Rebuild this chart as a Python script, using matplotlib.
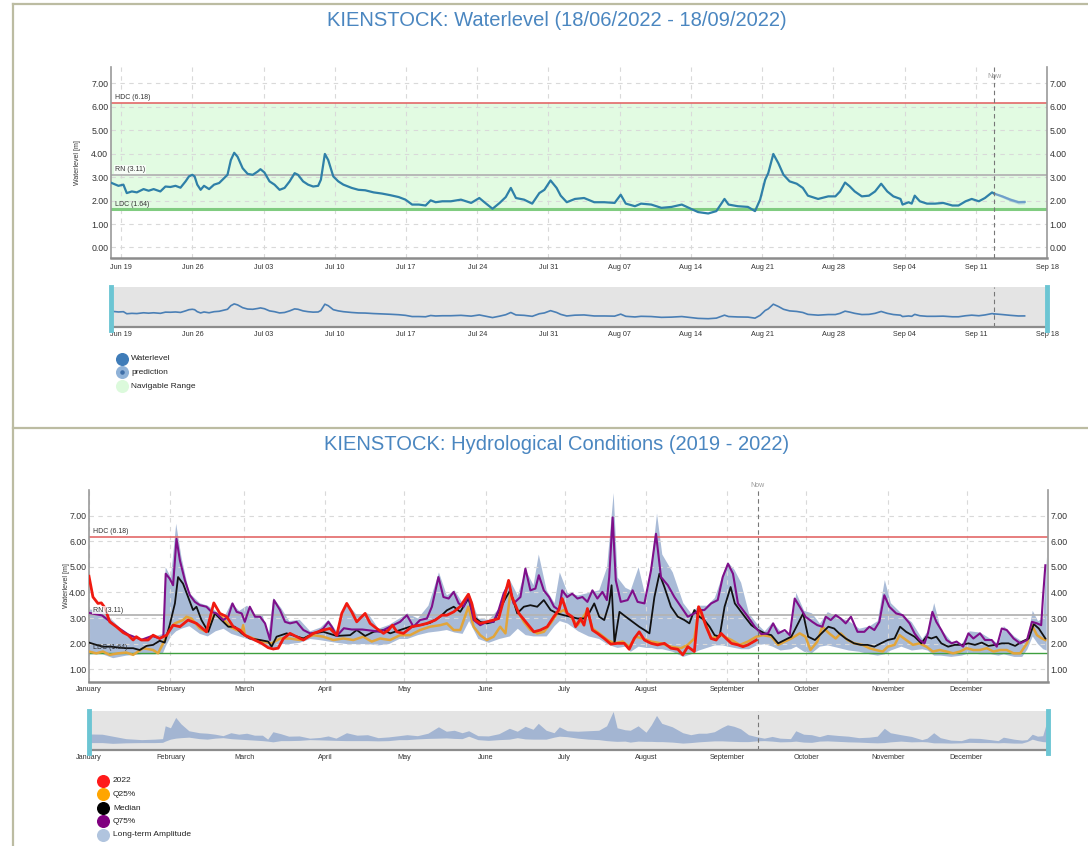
import numpy as np
import matplotlib.pyplot as plt
import matplotlib.dates as mdates
import matplotlib.transforms as mtransforms
from matplotlib.ticker import FormatStrFormatter

plt.rcParams['font.family'] = ['Liberation Sans', 'DejaVu Sans']

# ---- top chart: water level, days since 18/06/2022 00:00 ----
START = np.datetime64('2022-06-18T00:00')
END = np.datetime64('2022-09-18T00:00')

level_pts = [
    (0.07, 2.75), (0.73, 2.63), (1.22, 2.68), (1.55, 2.32), (2.05, 2.39), (2.54, 2.35), (3.2, 2.49),
    (3.7, 2.42), (4.19, 2.49), (4.85, 2.39), (5.35, 2.6), (5.84, 2.58), (6.34, 2.63), (6.83, 2.55),
    (7.33, 2.82), (7.66, 3.03), (7.99, 3.1), (8.22, 3.03), (8.48, 2.68), (8.81, 2.46), (9.14, 2.63),
    (9.64, 2.49), (10.13, 2.68), (10.63, 2.75), (11.12, 2.96), (11.45, 3.1), (11.78, 3.73),
    (12.11, 4.04), (12.44, 3.87), (12.94, 3.38), (13.43, 3.14), (13.93, 3.1), (14.42, 3.24),
    (14.69, 3.34), (15.08, 3.2), (15.58, 2.82), (16.07, 2.68), (16.57, 2.46), (17.06, 2.54),
    (17.56, 2.82), (18.05, 3.17), (18.38, 3.1), (18.88, 2.82), (19.37, 2.68), (19.87, 2.6),
    (20.36, 2.63), (20.63, 2.89), (21.02, 3.99), (21.35, 3.73), (21.85, 3.03), (22.34, 2.82),
    (22.84, 2.68), (23.66, 2.54), (24.32, 2.46), (24.98, 2.44), (25.81, 2.35), (26.63, 2.3),
    (27.46, 2.23), (28.28, 2.15), (28.94, 2.04), (29.6, 1.83), (30.26, 1.83), (30.92, 1.79),
    (31.42, 2.01), (31.91, 1.93), (32.57, 1.97), (33.4, 1.97), (34.4, 2.04), (35.4, 1.9),
    (36.2, 2.11), (36.7, 1.93), (37.5, 1.65), (38.2, 1.9), (38.8, 2.15), (39.3, 2.54), (39.8, 2.11),
    (40.6, 2.04), (41.4, 1.87), (42.1, 2.32), (42.6, 2.46), (43.2, 2.86), (43.8, 2.54), (44.2, 2.21),
    (44.8, 1.93), (45.6, 2.07), (46.5, 2.11), (47.5, 1.93), (48.5, 1.93), (49.5, 1.9), (50.1, 2.25),
    (50.6, 1.87), (51.5, 1.76), (52.1, 1.87), (53.1, 1.83), (54.1, 1.69), (55.1, 1.73), (56.1, 1.83),
    (57.0, 1.65), (57.7, 1.51), (58.7, 1.45), (59.5, 1.55), (60.3, 2.07), (60.7, 1.83), (61.6, 1.76),
    (62.6, 1.73), (63.3, 1.55), (63.8, 2.04), (64.3, 2.89), (64.6, 3.17), (65.1, 3.99), (65.6, 3.59),
    (66.1, 3.1), (66.7, 2.82), (67.4, 2.72), (68.0, 2.54), (68.5, 2.21), (69.5, 2.07), (70.5, 2.18),
    (71.2, 2.18), (71.66, 2.39), (72.15, 2.77), (72.6, 2.61), (73.1, 2.39), (73.8, 2.18),
    (74.5, 2.21), (75.1, 2.39), (75.7, 2.72), (76.3, 2.39), (76.9, 2.18), (77.6, 2.07), (77.8, 1.83),
    (78.4, 1.93), (78.7, 1.87), (79.0, 2.21), (79.5, 1.97), (80.2, 1.87), (81.0, 1.87), (81.8, 1.9),
    (82.7, 1.79), (83.3, 1.79), (84.0, 1.97), (84.6, 2.07), (85.3, 1.97), (85.9, 2.11), (86.6, 2.35),
    (86.8, 2.3),
]
# day, value, band low, band high
forecast_pts = [(86.8, 2.3, 2.27, 2.33), (87.6, 2.18, 2.12, 2.24), (88.4, 2.04, 1.97, 2.11),
                (89.2, 1.93, 1.85, 2.01), (89.8, 1.94, 1.86, 2.02)]
now_day = 86.8

HDC, RN, LDC = 6.18, 3.11, 1.64

# ---- bottom chart: hydrological conditions, day of year ----
months = ['January', 'February', 'March', 'April', 'May', 'June', 'July', 'August',
          'September', 'October', 'November', 'December']
month_starts = [0, 31, 59, 90, 120, 151, 181, 212, 243, 273, 304, 334]
now_doy = 254.5

y2022_pts = [
    (0, 4.63), (1.5, 3.82), (3.4, 3.57), (4.7, 3.59), (6, 3.41), (7.9, 2.85), (10.4, 2.66), (13, 2.43),
    (14.9, 2.33), (16.8, 2.14), (18, 2.27), (19.9, 2.14), (22.5, 2.14), (24.4, 2.33), (26.9, 2.2),
    (29.5, 2.33), (32, 2.72), (34.6, 2.66), (37.7, 2.92), (40.9, 2.79), (44.7, 2.46), (47.5, 3.59),
    (49.8, 3.18), (52.4, 3.05), (54.9, 2.66), (57.4, 2.53), (59.3, 2.33), (62.5, 2.17), (65.7, 2.01),
    (68.2, 1.84), (70.1, 1.79), (72, 1.82), (74, 2.2), (76.5, 2.4), (79, 2.27), (81.6, 2.14),
    (85.4, 2.4), (89.2, 2.53), (91.7, 2.59), (94.3, 2.33), (96.2, 3.18), (98.1, 3.57), (100, 3.24),
    (101.9, 2.85), (103.8, 3.05), (105.1, 3.18), (107, 2.79), (109.5, 2.59), (112.1, 2.4), (114, 2.53),
    (115.5, 2.72), (117.2, 2.46), (119.7, 2.4), (122.9, 2.66), (126, 2.72), (128.6, 2.79),
    (131.8, 2.92), (134.3, 3.11), (136.2, 3.11), (138.8, 3.24), (141.3, 3.45), (144.4, 3.93),
    (145.7, 3.57), (147, 2.92), (148.9, 2.79), (151.4, 2.85), (154, 2.92), (155.9, 2.98), (157.8, 3.7),
    (159.7, 4.47), (161, 3.82), (163.6, 3.18), (166.7, 2.79), (169.3, 2.46), (171.8, 2.53),
    (174.4, 2.66), (176.9, 3.05), (178.8, 3.31), (180.1, 3.76), (182, 3.18), (183.9, 3.05),
    (185.2, 2.66), (187.1, 2.98), (188.4, 2.72), (189.7, 3.37), (191.6, 2.53), (193.5, 2.4),
    (196.1, 2.2), (198.6, 1.98), (201.2, 2.01), (203.7, 2.01), (205.6, 1.78), (207.5, 2.2),
    (209.4, 2.46), (211.4, 2.14), (213.9, 2.01), (216.4, 1.95), (219, 2.01), (221.5, 1.82),
    (224.1, 1.78), (226, 1.56), (227.9, 1.88), (230.4, 1.69), (232, 3.44), (233, 3.24), (234.9, 2.66),
    (236.8, 2.2), (238.7, 2.14), (240.6, 2.4), (242.5, 2.2), (244.5, 2.01), (247, 1.95), (248.9, 1.88),
    (250.8, 1.95), (254, 2.14),
]

q25_pts = [
    (0, 1.69), (2.8, 1.62), (5.3, 1.69), (7.9, 1.56), (11, 1.62), (14.2, 1.65), (16.8, 1.56),
    (20.6, 1.82), (24.4, 1.75), (26.3, 1.62), (28.2, 2.01), (30.7, 2.55), (32.7, 2.79), (35.8, 2.92),
    (37.1, 3.05), (39, 2.98), (42.2, 2.59), (44.7, 2.46), (47.9, 3.18), (50.4, 3.05), (53.6, 2.66),
    (56.2, 2.53), (58.1, 2.46), (58.7, 2.72), (59.3, 2.33), (62.5, 2.2), (66.3, 2.08), (69.5, 2.01),
    (72.7, 2.2), (76.5, 2.2), (80.3, 2.14), (85.4, 2.33), (89.2, 2.27), (93, 2.14), (96.8, 2.2),
    (100.6, 2.14), (104.4, 2.27), (107.6, 2.08), (110.8, 2.2), (114.6, 2.14), (118.4, 2.33),
    (122.2, 2.33), (126, 2.53), (129.8, 2.66), (133.7, 2.72), (136.2, 2.79), (138.8, 2.53),
    (141.3, 2.53), (144.4, 3.44), (146.4, 2.66), (148.9, 2.33), (151.4, 2.14), (154, 2.27),
    (156.5, 2.66), (158.5, 2.4), (160.3, 3.95), (163, 3.31), (165.5, 2.85), (168, 2.53), (170.6, 2.4),
    (173.1, 2.46), (175.7, 2.79), (178.2, 3.18), (180.7, 3.31), (183.3, 3.05), (185.9, 2.72),
    (187.8, 2.98), (189.7, 3.31), (191.6, 2.59), (194.2, 2.4), (197.4, 2.14), (200, 2.01),
    (203.1, 2.08), (205.6, 1.88), (208.2, 2.27), (210.7, 2.2), (213.9, 2.08), (217.7, 2.01),
    (221.5, 1.88), (225.3, 1.82), (227.9, 1.95), (230.4, 2.2), (232, 3.3), (235, 2.7), (236.8, 2.2),
    (240.6, 2.33), (244.5, 2.14), (247.7, 1.95), (250.8, 2.08), (254, 2.27), (256.5, 2.33),
    (259.7, 2.27), (262.3, 1.95), (264.8, 2.08), (267.3, 2.2), (270.5, 2.4), (272.7, 2.27),
    (274.6, 1.75), (277.2, 2.08), (279.1, 2.66), (281.7, 2.4), (284.2, 2.2), (286.1, 2.4),
    (288.7, 2.14), (291.2, 2.01), (294.4, 1.95), (297, 1.82), (299.5, 1.75), (302.1, 1.69), (304, 1.88),
    (306.6, 1.95), (308.5, 2.33), (311, 2.14), (313.6, 1.95), (316.1, 2.01), (318.7, 1.88),
    (321.2, 1.69), (323.8, 1.75), (326.4, 1.69), (328.9, 1.62), (331.5, 1.69), (334, 1.82),
    (336.6, 1.75), (339.1, 1.75), (341.7, 1.82), (344.3, 1.69), (346.8, 1.75), (349.3, 1.75),
    (351.9, 1.62), (354.4, 1.62), (357, 2.01), (358.9, 2.72), (360.8, 2.33), (362.7, 2.2), (364, 2.14),
]

median_pts = [
    (0, 2.04), (2.8, 1.95), (5.3, 1.88), (8.5, 1.88), (11.7, 1.84), (14.2, 1.82), (16.8, 1.82),
    (19.3, 1.75), (21.9, 1.91), (24.4, 1.95), (26.9, 2.11), (28.8, 2.04), (30.7, 2.72), (32.7, 3.57),
    (33.9, 4.6), (35.8, 4.34), (37.7, 3.82), (39.6, 3.31), (40.9, 3.44), (42.8, 2.92), (45.4, 2.46),
    (47.9, 3.18), (50.4, 2.92), (53, 2.66), (55.5, 2.66), (58.1, 2.4), (61.2, 2.2), (65.1, 2.14),
    (68.2, 2.08), (69.5, 1.88), (71.4, 2.27), (75.2, 2.4), (78.4, 2.3), (81.6, 2.2), (85.4, 2.4),
    (89.2, 2.46), (94.3, 2.3), (99.4, 2.33), (101.9, 2.53), (105.1, 2.3), (108.3, 2.46), (112.1, 2.53),
    (114.6, 2.4), (118.4, 2.53), (122.2, 2.66), (126, 2.72), (129.8, 2.81), (133.7, 3.05),
    (136.2, 3.3), (138.8, 3.44), (141.3, 3.24), (144.4, 3.76), (146.4, 3.05), (148.9, 2.85),
    (151.4, 2.79), (154, 2.85), (156.5, 3.37), (158.5, 3.76), (160.3, 4.08), (163, 3.18),
    (165.5, 3.44), (168, 3.5), (170.6, 3.44), (173.1, 3.7), (175.7, 3.31), (178.2, 3.18),
    (180.7, 3.11), (183.3, 3.05), (185.9, 2.98), (188.4, 2.98), (190.3, 3.18), (192.3, 3.57),
    (194.2, 3.05), (196.1, 2.92), (198, 3.57), (198.9, 4.28), (200, 2.01), (201.9, 3.24),
    (204.3, 3.05), (206.9, 2.85), (209.4, 2.66), (211.4, 2.53), (213.3, 2.4), (215.2, 3.82),
    (217.1, 4.73), (219, 4.21), (221.5, 3.44), (224.1, 3.05), (226.6, 2.92), (228.5, 2.79),
    (230.4, 3.31), (232.3, 3.05), (234.2, 2.92), (236.2, 2.66), (238.1, 2.33), (240, 2.27),
    (241.9, 3.44), (244.2, 4.21), (245.8, 3.57), (247.7, 3.31), (249.6, 3.05), (252.1, 2.72),
    (254.7, 2.53), (257.2, 2.4), (259.7, 2.33), (262.3, 2.01), (264.8, 2.14), (267.3, 2.27),
    (269.9, 2.79), (271.8, 3.18), (273.7, 2.27), (276.3, 2.14), (278.8, 2.4), (281.4, 2.66),
    (283.6, 2.59), (285.5, 2.4), (288, 2.2), (291.2, 2.01), (293.8, 1.95), (296.3, 1.95), (298.9, 1.88),
    (301.4, 2.01), (304, 2.14), (306.6, 2.2), (308.7, 2.66), (311, 2.46), (314.2, 2.27), (316.8, 2.01),
    (318.7, 2.27), (320.6, 2.2), (322.5, 2.27), (324.4, 2.01), (327, 1.88), (329.5, 1.95),
    (332.1, 1.95), (334.7, 2.01), (337.2, 1.95), (339.8, 2.04), (342.3, 1.91), (344.9, 1.95),
    (347.4, 2.01), (350, 2.01), (352.5, 1.91), (355.1, 2.08), (357.7, 2.2), (359.6, 2.76),
    (361.5, 2.59), (364, 2.2),
]

q75_pts = [
    (0, 3.2), (5, 3.1), (10, 2.7), (15, 2.35), (20, 2.15), (24, 2.3), (27, 2.2), (28.3, 2.3),
    (29.2, 4.73), (30.7, 4.54), (32, 4.28), (33.3, 6.09), (34.6, 5.25), (36.5, 4.47), (38.4, 3.89),
    (40.3, 3.63), (42.2, 3.5), (44.7, 3.44), (46.6, 3.24), (48.5, 3.18), (51.1, 2.92), (53, 3.05),
    (54.6, 3.57), (56.2, 3.24), (58.1, 3.18), (59.3, 2.85), (61.2, 3.44), (63.2, 3.05), (65.1, 3.05),
    (67, 2.79), (68.9, 2.14), (70.4, 3.7), (72.7, 3.31), (74.6, 2.85), (76.5, 2.79), (79, 2.85),
    (81.6, 2.53), (84.1, 2.4), (86.7, 2.43), (89.2, 2.59), (91.1, 2.85), (92.4, 2.66), (94.3, 2.3),
    (97, 2.6), (100, 2.55), (104, 2.55), (108, 2.5), (110.8, 2.46), (114.6, 2.66), (118.4, 2.85),
    (121, 3.11), (123.5, 2.66), (126, 2.92), (128.6, 2.98), (130.5, 3.44), (133, 4.6), (134.9, 3.82),
    (136.9, 3.76), (138.8, 4.02), (140.7, 3.57), (142.6, 3.44), (144.4, 3.89), (146.4, 2.92),
    (148.9, 2.72), (151.4, 2.85), (154, 2.85), (155.9, 3.31), (157.8, 3.95), (159.7, 4.34),
    (161.6, 3.57), (164.2, 3.82), (166.1, 4.93), (168, 4.08), (169.9, 4.15), (171.2, 4.67),
    (173.1, 4.08), (175.1, 3.82), (177, 3.44), (178.9, 3.31), (180.1, 4.08), (182, 3.82),
    (183.9, 3.95), (185.9, 3.76), (187.8, 3.82), (189.7, 3.63), (191.6, 4.08), (193.5, 3.76),
    (195.4, 4.02), (197.1, 3.7), (198, 4.6), (199.3, 6.93), (200.5, 4.47), (202.4, 3.63), (205, 3.7),
    (206.9, 4.08), (208.8, 3.63), (211.4, 3.57), (213.9, 4.86), (215.8, 6.29), (217.7, 4.6),
    (220.3, 4.28), (222.8, 3.82), (225.3, 3.44), (227.9, 3.05), (230.4, 3.18), (232.3, 3.31),
    (234.2, 3.31), (236.8, 3.57), (239.3, 3.7), (241.2, 4.6), (243.2, 5.12), (245.1, 4.73),
    (247, 3.57), (248.9, 3.31), (250.8, 3.05), (253.4, 2.66), (255.9, 2.37), (258.4, 2.4),
    (260.4, 2.79), (262.3, 2.4), (264.8, 2.53), (266.7, 2.33), (268.6, 3.76), (270.5, 3.44),
    (272.7, 3.05), (275.3, 2.85), (277.2, 2.72), (279.1, 2.66), (280.4, 3.05), (282.3, 2.92),
    (284.2, 3.11), (286.1, 2.98), (288, 2.79), (290, 3.05), (292.5, 2.46), (295.1, 2.46), (297, 2.66),
    (298.9, 2.53), (300.8, 2.85), (302.7, 3.89), (304.6, 3.44), (307.2, 3.18), (309.7, 3.11),
    (312.3, 2.79), (314.2, 2.4), (316.1, 2.14), (318, 2.01), (319.3, 2.4), (321, 3.24), (322.5, 2.85),
    (324.4, 2.53), (326.4, 2.14), (328.3, 2.01), (330.2, 2.08), (332.7, 1.88), (334.7, 2.4),
    (336.6, 2.2), (339.1, 2.4), (341, 2.14), (343.6, 2.14), (345.5, 1.88), (347.4, 2.59),
    (349.3, 2.53), (351.9, 2.2), (354.4, 2.01), (357, 2.14), (358.9, 2.85), (360.8, 2.79),
    (362.4, 2.72), (363.1, 3.82), (364, 5.06),
]

# long-term amplitude: day, low, high
amp_pts = [
    (0, 1.6, 3.35), (5, 1.6, 3.3), (9, 1.45, 2.9), (14, 1.55, 2.4), (20, 1.6, 2.2), (25, 1.6, 2.3),
    (28, 1.65, 2.4), (29, 1.9, 5.0), (31, 2.3, 4.6), (33, 2.5, 6.7), (35, 2.6, 5.4), (38, 2.7, 4.0),
    (42, 2.4, 3.6), (45, 2.3, 3.5), (48, 2.5, 3.3), (51, 2.6, 3.0), (54, 2.4, 3.6), (57, 2.3, 3.3),
    (60, 2.2, 3.5), (63, 2.1, 3.1), (66, 2.0, 3.1), (68, 1.9, 2.3), (70, 1.75, 3.8), (73, 2.0, 3.4),
    (76, 2.0, 2.9), (80, 2.05, 2.95), (84, 2.2, 2.5), (88, 2.15, 2.65), (91, 2.1, 2.95),
    (94, 2.05, 2.5), (98, 2.0, 3.6), (102, 2.0, 3.1), (106, 2.0, 3.2), (110, 1.95, 2.6),
    (114, 2.0, 2.75), (118, 2.2, 3.0), (121, 2.2, 3.2), (125, 2.35, 3.0), (129, 2.45, 3.5),
    (133, 2.5, 4.8), (136, 2.55, 3.9), (139, 2.45, 4.1), (142, 2.4, 3.6), (144.5, 2.9, 4.0),
    (148, 2.2, 3.0), (152, 2.05, 2.95), (156, 2.2, 3.4), (160, 2.3, 4.5), (163, 2.6, 3.9),
    (166, 2.35, 4.9), (169, 2.3, 4.3), (171, 2.3, 5.5), (174, 2.3, 4.1), (177, 2.7, 3.6),
    (179, 2.9, 4.8), (182, 2.8, 4.0), (186, 2.5, 3.9), (190, 2.3, 4.0), (194, 2.2, 4.1),
    (197, 2.0, 5.0), (199.5, 1.9, 7.9), (201, 1.85, 4.6), (204, 1.9, 4.2), (206, 1.7, 4.1),
    (209, 1.9, 5.0), (212, 1.85, 3.7), (214, 1.85, 5.2), (216, 1.8, 7.1), (218, 1.8, 5.5),
    (222, 1.7, 4.8), (226, 1.5, 3.6), (229, 1.6, 3.2), (232, 1.75, 3.5), (235, 1.85, 3.5),
    (238, 1.95, 3.8), (241, 1.95, 4.7), (243, 1.9, 5.2), (245.5, 1.85, 4.9), (248, 1.8, 4.4),
    (251, 1.8, 3.2), (254, 1.95, 2.8), (257, 2.0, 2.5), (260, 1.9, 2.85), (263, 1.75, 2.5),
    (267, 1.8, 2.4), (269, 1.9, 4.0), (272, 1.7, 3.3), (275, 1.65, 3.2), (278, 1.9, 2.8),
    (281, 1.95, 3.25), (285, 1.85, 3.05), (289, 1.75, 2.9), (293, 1.7, 2.6), (297, 1.6, 2.7),
    (300, 1.55, 2.9), (302.7, 1.6, 4.5), (305, 1.75, 3.6), (309, 1.9, 3.2), (313, 1.75, 2.85),
    (317, 1.8, 2.2), (319, 1.75, 2.5), (321.5, 1.55, 3.6), (324, 1.55, 2.6), (328, 1.5, 2.1),
    (332, 1.55, 2.0), (335, 1.65, 2.5), (339, 1.6, 2.45), (343, 1.6, 2.2), (346, 1.55, 2.0),
    (348, 1.6, 2.7), (352, 1.5, 2.3), (355, 1.5, 2.1), (357, 1.8, 2.2), (359, 2.3, 3.3),
    (361, 2.0, 2.9), (363, 1.8, 3.0), (364.3, 1.75, 5.4),
]

W, H = 1088, 846
TITLE = '#4a86c0'
XTICK = 5.2
YTICK = 6.3


def to_dates(days):
    return START + np.round(np.asarray(days) * 1440).astype('timedelta64[m]')


def px_axes(x0, y0, x1, y1):
    return fig.add_axes([x0 / W, 1 - y1 / H, (x1 - x0) / W, (y1 - y0) / H])


def style_main(ax, ylim, yticks):
    ax.set_ylim(*ylim)
    ax.set_yticks(yticks)
    ax.yaxis.set_major_formatter(FormatStrFormatter('%.2f'))
    ax.yaxis.set_ticks_position('both')
    ax.tick_params(axis='both', length=0, colors='#333333')
    ax.tick_params(axis='x', labelsize=XTICK, pad=4)
    ax.tick_params(axis='y', labelsize=YTICK, labelright=True, pad=2)
    ax.grid(True, color='#d9d9d9', linestyle=(0, (4, 4)), linewidth=0.8)
    ax.spines['top'].set_visible(False)
    for side in ('left', 'right'):
        ax.spines[side].set_color('#9a9a9a')
        ax.spines[side].set_linewidth(1.2)
    ax.spines['bottom'].set_color('#8c8c8c')
    ax.spines['bottom'].set_linewidth(1.8)


def style_nav(ax):
    ax.set_facecolor('#e4e4e4')
    ax.set_yticks([])
    ax.tick_params(axis='x', length=0, labelsize=XTICK, colors='#333333', pad=3)
    for side in ('left', 'right', 'top'):
        ax.spines[side].set_visible(False)
    ax.spines['bottom'].set_color('#8c8c8c')
    ax.spines['bottom'].set_linewidth(1.6)
    for edge in ax.get_xlim():
        ax.axvline(edge, ymin=-0.08, ymax=1.0, color='#6cc5d3', lw=3.5, clip_on=False, zorder=5)


def ref_lines(ax, x_text, ldc_color, ldc_width):
    ax.axhline(HDC, color='#e36868', lw=1.2, zorder=1.8)
    ax.axhline(RN, color='#b4b4b4', lw=1.3, zorder=1.8)
    ax.axhline(LDC, color=ldc_color, lw=ldc_width, zorder=1.8)
    tr = mtransforms.blended_transform_factory(ax.transAxes, ax.transData)
    for name, val in (('HDC', HDC), ('RN', RN), ('LDC', LDC)):
        box = dict(facecolor='white', edgecolor='none', alpha=0.75, pad=0.6) if name == 'RN' else None
        ax.text(x_text, val + 0.06, f'{name} ({val:.2f})', transform=tr, fontsize=5,
                color='#333333', va='bottom', ha='left', bbox=box, zorder=6)


fig = plt.figure(figsize=(W / 100, H / 100), dpi=100)

# page frame, titles, legends in pixel coordinates
frame = fig.add_axes([0, 0, 1, 1])
frame.set_xlim(0, W)
frame.set_ylim(H, 0)
frame.axis('off')
border = '#bcbca2'
frame.plot([13, 13], [4, H], color=border, lw=1.6)
frame.plot([13, W], [4, 4], color=border, lw=1.6)
frame.plot([13, W], [428, 428], color=border, lw=1.6)
frame.text(557, 20, 'KIENSTOCK: Waterlevel (18/06/2022 - 18/09/2022)', ha='center', va='center',
           fontsize=14.5, color=TITLE)
frame.text(557, 444, 'KIENSTOCK: Hydrological Conditions (2019 - 2022)', ha='center', va='center',
           fontsize=14.5, color=TITLE)

top_legend = [('Waterlevel', '#3f7cb8'), ('prediction', '#8fb2d8'), ('Navigable Range', '#dcfadc')]
for i, (label, col) in enumerate(top_legend):
    y = 359 + i * 13.5
    frame.scatter([122], [y], s=70, color=col, zorder=3)
    frame.text(131, y, label, fontsize=6, va='center', color='#222222')
frame.scatter([122], [372.5], s=5, color='#3f6fa8', zorder=4)

bottom_legend = [('2022', '#ff1a1a'), ('Q25%', '#ffa500'), ('Median', '#000000'),
                 ('Q75%', '#800080'), ('Long-term Amplitude', '#b0c4de')]
for i, (label, col) in enumerate(bottom_legend):
    y = 781 + i * 13.5
    frame.scatter([103], [y], s=70, color=col, zorder=3)
    frame.text(113, y, label, fontsize=6, va='center', color='#222222')

# ---- top main chart ----
lv_days, lv_vals = zip(*level_pts)
fc_days, fc_vals, fc_lo, fc_hi = zip(*forecast_pts)
lv_t = to_dates(lv_days)
fc_t = to_dates(fc_days)
now_t = to_dates([now_day])[0]

ax1 = px_axes(111, 67, 1047, 258)
ax1.axhspan(LDC, HDC, color='#e2fbe2', lw=0, zorder=0)
ref_lines(ax1, 0.004, '#80cc80', 2.2)
ax1.fill_between(fc_t, fc_lo, fc_hi, color='#7aa6cf', alpha=0.35, lw=0, zorder=2.5)
ax1.plot(fc_t, fc_vals, color='#6f9fca', lw=1.6, zorder=3)
ax1.plot(lv_t, lv_vals, color='#2f80a8', lw=1.6, zorder=3)
ax1.axvline(now_t, color='#777777', lw=0.8, ls=(0, (4, 3)), zorder=4)
ax1.text(now_t, 7.3, 'Now', ha='center', va='center', fontsize=5, color='#9a9a9a')
ax1.set_xlim(START, END)
ax1.xaxis.set_major_locator(mdates.WeekdayLocator(byweekday=mdates.SU))
ax1.xaxis.set_major_formatter(mdates.DateFormatter('%b %d'))
style_main(ax1, (-0.45, 7.7), np.arange(0, 8))
ax1.set_ylabel('Waterlevel [m]', fontsize=5, color='#333333')
ax1.yaxis.set_label_coords(-30 / 936, 0.5)

nav1 = px_axes(111, 287, 1047, 327)
nav1.plot(lv_t, lv_vals, color='#4a7fb5', lw=1.2)
nav1.plot(fc_t, fc_vals, color='#4a7fb5', lw=1.2)
nav1.axvline(now_t, color='#777777', lw=0.8, ls=(0, (4, 3)))
nav1.set_xlim(START, END)
nav1.set_ylim(0, 7)
nav1.xaxis.set_major_locator(mdates.WeekdayLocator(byweekday=mdates.SU))
nav1.xaxis.set_major_formatter(mdates.DateFormatter('%b %d'))
style_nav(nav1)

# ---- bottom main chart ----
amp_d, amp_lo, amp_hi = zip(*amp_pts)

ax2 = px_axes(89, 490, 1048, 682)
ax2.fill_between(amp_d, amp_lo, amp_hi, color='#a9bbd7', lw=0, zorder=1)
ref_lines(ax2, 0.004, '#3f9f3f', 1.0)
for pts, col, lw in ((q25_pts, '#e2a53a', 1.8), (median_pts, '#111111', 1.3),
                     (q75_pts, '#7f0f8a', 1.5), (y2022_pts, '#f01a10', 2.0)):
    d, v = zip(*pts)
    ax2.plot(d, v, color=col, lw=lw, zorder=3)
ax2.axvline(now_doy, color='#777777', lw=0.8, ls=(0, (4, 3)), zorder=4)
ax2.text(now_doy, 8.02, 'Now', ha='center', va='bottom', fontsize=5, color='#9a9a9a', clip_on=False)
ax2.set_xlim(0, 365)
ax2.set_xticks(month_starts)
ax2.set_xticklabels(months)
style_main(ax2, (0.5, 8.0), np.arange(1, 8))
ax2.tick_params(axis='x', pad=3)
ax2.set_ylabel('Waterlevel [m]', fontsize=5, color='#333333')
ax2.yaxis.set_label_coords(-19.5 / 959, 0.5)

nav2 = px_axes(89, 711, 1048, 750)
nav2.fill_between(amp_d, amp_lo, amp_hi, color='#a3b5d2', lw=0)
nav2.axvline(now_doy, color='#777777', lw=0.8, ls=(0, (4, 3)))
nav2.set_xlim(0, 365)
nav2.set_ylim(0.1, 8.0)
nav2.set_xticks(month_starts)
nav2.set_xticklabels(months)
style_nav(nav2)

fig.savefig('out.png', dpi=100)
